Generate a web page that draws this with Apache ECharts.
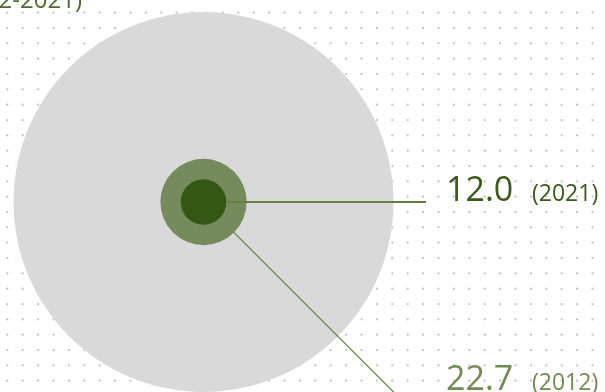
<!DOCTYPE html>
<html>
<head>
<meta charset="utf-8">
<style>
  html, body { margin: 0; padding: 0; background: #ffffff; }
  #chart { width: 605px; height: 392px; }
</style>
<script src="https://cdn.jsdelivr.net/npm/echarts@6/dist/echarts.min.js"></script>
</head>
<body>
<div id="chart"></div>
<script>
// Share values: the full reference disc and the two years compared
const names = ['Total', '2012', '2021'];
const values = [100, 22.7, 12.0];
const years = ['2012', '2021'];
const titleText = '(2012-2021)';

const discColors = ['#d9d9d9', '#758b5b', '#345814'];

// Dotted background tile
function dotTile() {
  const c = document.createElement('canvas');
  c.width = 77; c.height = 46;
  const ctx = c.getContext('2d');
  ctx.fillStyle = '#c0c0c0';
  for (let i = 0; i < 5; i++) {
    for (let j = 0; j < 3; j++) {
      ctx.beginPath();
      ctx.arc(7.3 + i * 15.4, 12.7 + j * 15.33, 1.1, 0, Math.PI * 2);
      ctx.fill();
    }
  }
  return c;
}

const chart = echarts.init(document.getElementById('chart'), null, { renderer: 'canvas' });

// Concentric discs: polar bars whose radius comes from the value axis
chart.setOption({
  animation: false,
  backgroundColor: '#ffffff',
  polar: { center: [203.5, 202], radius: 190 },
  angleAxis: { type: 'category', data: ['share'], show: false, startAngle: 90 },
  radiusAxis: { type: 'value', min: 0, max: 100, show: false },
  series: names.map((n, i) => ({
    type: 'bar',
    name: n,
    coordinateSystem: 'polar',
    data: [values[i]],
    barGap: '-100%',
    barCategoryGap: '0%',
    silent: true,
    itemStyle: { color: discColors[i] },
    z: 2 + i
  }))
});

// Leader lines and labels, placed from the polar radius scale
const polar = chart.getModel().getComponent('polar').coordinateSystem;
const cx = polar.cx, cy = polar.cy;
const rAxis = polar.getRadiusAxis();
const r2012 = rAxis.dataToRadius(values[1]);
const r2021 = rAxis.dataToRadius(values[2]);
const diag = Math.SQRT1_2;

chart.setOption({
  graphic: [
    {
      type: 'rect', z: -10, silent: true,
      shape: { x: 0, y: 0, width: 605, height: 392 },
      style: { fill: { image: dotTile(), repeat: 'repeat' } }
    },
    {
      type: 'text', z: 10, silent: true,
      x: 82, y: 1,
      style: { text: titleText, fill: '#4d6b2e', font: '24px "Open Sans"', align: 'right', verticalAlign: 'middle' }
    },
    {
      type: 'line', z: 10, silent: true,
      shape: { x1: cx + r2021, y1: cy, x2: 426, y2: cy },
      style: { stroke: '#62803f', lineWidth: 1.8 }
    },
    {
      type: 'line', z: 10, silent: true,
      shape: { x1: cx + r2012 * diag, y1: cy + r2012 * diag, x2: cx + 240, y2: cy + 240 },
      style: { stroke: '#6f8a50', lineWidth: 1.3 }
    },
    {
      type: 'text', z: 10, silent: true, x: 446, y: 191,
      style: { text: values[2].toFixed(1), fill: '#3a5a1a', font: '500 34px "Open Sans"', verticalAlign: 'middle' }
    },
    {
      type: 'text', z: 10, silent: true, x: 532, y: 194.5,
      style: { text: '(' + years[1] + ')', fill: '#3a5a1a', font: '23px "Open Sans"', verticalAlign: 'middle' }
    },
    {
      type: 'text', z: 10, silent: true, x: 446, y: 380,
      style: { text: values[1].toFixed(1), fill: '#718b52', font: '500 34px "Open Sans"', verticalAlign: 'middle' }
    },
    {
      type: 'text', z: 10, silent: true, x: 532, y: 383.5,
      style: { text: '(' + years[0] + ')', fill: '#718b52', font: '23px "Open Sans"', verticalAlign: 'middle' }
    }
  ]
});
</script>
</body>
</html>
